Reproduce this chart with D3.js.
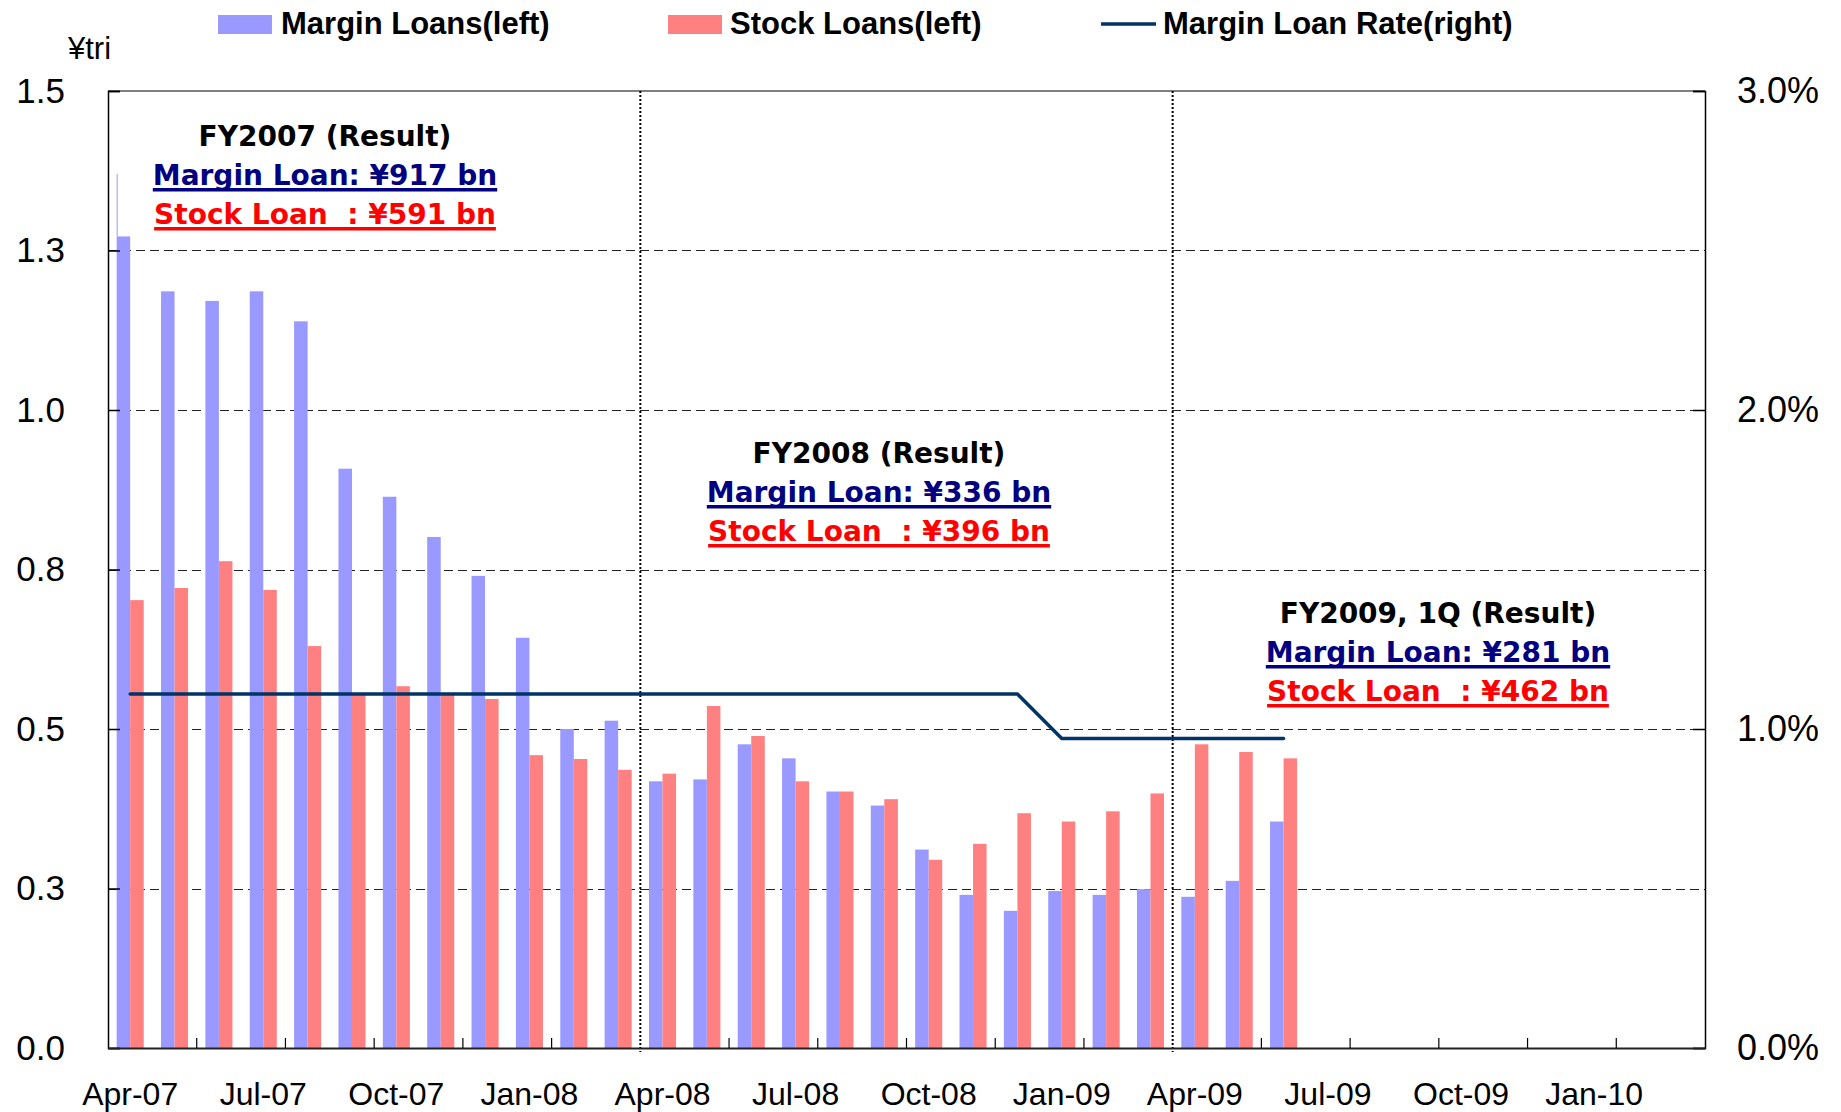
<!DOCTYPE html>
<html>
<head>
<meta charset="utf-8">
<script src="https://cdn.jsdelivr.net/npm/d3@7"></script>
<style>
  body { margin: 0; background: #fff; }
  svg { display: block; }
  .axis text, .lbl { font-family: 'Liberation Sans', Arial, sans-serif; fill: #000; }
  .legend text { font-family: 'Liberation Sans', Arial, sans-serif; font-weight: bold; fill: #000; }
  .note { font-family: 'DejaVu Sans', sans-serif; font-weight: bold; white-space: pre; }
</style>
</head>
<body>
<div id="chart"></div>
<script>
// monthly categories on the x axis (Apr-07 .. Mar-10)
const months = [
  'Apr-07','May-07','Jun-07','Jul-07','Aug-07','Sep-07','Oct-07','Nov-07','Dec-07',
  'Jan-08','Feb-08','Mar-08','Apr-08','May-08','Jun-08','Jul-08','Aug-08','Sep-08',
  'Oct-08','Nov-08','Dec-08','Jan-09','Feb-09','Mar-09','Apr-09','May-09','Jun-09',
  'Jul-09','Aug-09','Sep-09','Oct-09','Nov-09','Dec-09','Jan-10','Feb-10','Mar-10'
];
const xTickLabels = ['Apr-07','Jul-07','Oct-07','Jan-08','Apr-08','Jul-08','Oct-08','Jan-09','Apr-09','Jul-09','Oct-09','Jan-10'];

// ¥ trillion, Apr-07 .. Jun-09
const marginLoans = [1.272, 1.186, 1.171, 1.186, 1.139, 0.908, 0.864, 0.801, 0.740, 0.643, 0.500, 0.513,
                     0.418, 0.421, 0.476, 0.454, 0.402, 0.380, 0.311, 0.240, 0.215, 0.246, 0.240, 0.249,
                     0.237, 0.262, 0.355];
const stockLoans  = [0.702, 0.721, 0.763, 0.718, 0.630, 0.554, 0.567, 0.554, 0.547, 0.459, 0.453, 0.436,
                     0.430, 0.536, 0.489, 0.418, 0.402, 0.390, 0.295, 0.320, 0.368, 0.355, 0.371, 0.399,
                     0.476, 0.464, 0.454];
// %, right axis
const marginRate  = [1.11, 1.11, 1.11, 1.11, 1.11, 1.11, 1.11, 1.11, 1.11, 1.11, 1.11, 1.11,
                     1.11, 1.11, 1.11, 1.11, 1.11, 1.11, 1.11, 1.11, 1.11, 0.97, 0.97, 0.97,
                     0.97, 0.97, 0.97];
const marginPeakApr07 = 1.37;   // thin sliver drawn above the first bar

const leftTicks = [0, 0.25, 0.5, 0.75, 1.0, 1.25, 1.5];
const leftTickLabels = ['0.0', '0.3', '0.5', '0.8', '1.0', '1.3', '1.5'];
const rightTicks = [0, 1, 2, 3];
const rightTickLabels = ['0.0%', '1.0%', '2.0%', '3.0%'];
const fyBreaks = ['Apr-08', 'Apr-09'];

const notes = [
  { title: 'FY2007 (Result)',     margin: 'Margin Loan: ¥917 bn', stock: 'Stock Loan  : ¥591 bn' },
  { title: 'FY2008 (Result)',     margin: 'Margin Loan: ¥336 bn', stock: 'Stock Loan  : ¥396 bn' },
  { title: 'FY2009, 1Q (Result)', margin: 'Margin Loan: ¥281 bn', stock: 'Stock Loan  : ¥462 bn' }
];
const noteAnchors = [{ cx: 325, y: 146 }, { cx: 879, y: 463 }, { cx: 1438, y: 623 }];

const width = 1841, height = 1112;
const margin = { top: 91, right: 136, bottom: 64, left: 108 };
const innerW = width - margin.left - margin.right;
const innerH = height - margin.top - margin.bottom;

const blue = '#9999FF', red = '#FF8080', navy = '#003366';

const svg = d3.select('#chart').append('svg')
  .attr('width', width)
  .attr('height', height);

const g = svg.append('g')
  .attr('transform', `translate(${margin.left},${margin.top})`);

const x = d3.scaleBand().domain(months).range([0, innerW]).padding(0);
const inner = d3.scaleBand().domain(['margin', 'stock']).range([0, x.bandwidth()])
  .paddingInner(0).paddingOuter(0.64);
const y = d3.scaleLinear().domain([0, 1.5]).range([innerH, 0]);
const yR = d3.scaleLinear().domain([0, 3]).range([innerH, 0]);

// gridlines
g.append('g')
  .selectAll('line')
  .data(leftTicks.filter(d => d > 0 && d < 1.5))
  .join('line')
  .attr('x1', 0)
  .attr('x2', innerW)
  .attr('y1', d => Math.round(y(d)) + 0.5)
  .attr('y2', d => Math.round(y(d)) + 0.5)
  .attr('stroke', '#222')
  .attr('stroke-width', 1)
  .attr('stroke-dasharray', '9,5');

// top border
g.append('line')
  .attr('x1', 0).attr('x2', innerW)
  .attr('y1', 0).attr('y2', 0)
  .attr('stroke', '#808080')
  .attr('stroke-width', 2);

// bars
const barData = marginLoans.map((v, i) => ({ month: months[i], margin: v, stock: stockLoans[i] }));

g.append('g')
  .selectAll('g')
  .data(barData)
  .join('g')
  .attr('transform', d => `translate(${x(d.month)},0)`)
  .selectAll('rect')
  .data(d => [{ key: 'margin', value: d.margin }, { key: 'stock', value: d.stock }])
  .join('rect')
  .attr('x', d => inner(d.key))
  .attr('y', d => y(d.value))
  .attr('width', inner.bandwidth())
  .attr('height', d => innerH - y(d.value))
  .attr('fill', d => d.key === 'margin' ? blue : red);

g.append('rect')
  .attr('x', x(months[0]) + inner('margin'))
  .attr('y', y(marginPeakApr07))
  .attr('width', 1)
  .attr('height', y(marginLoans[0]) - y(marginPeakApr07))
  .attr('fill', blue);

// fiscal-year dividers
g.append('g')
  .selectAll('line')
  .data(fyBreaks)
  .join('line')
  .attr('x1', d => x(d))
  .attr('x2', d => x(d))
  .attr('y1', 0)
  .attr('y2', innerH + 4)
  .attr('stroke', '#000')
  .attr('stroke-width', 2)
  .attr('stroke-dasharray', '2,2');

// margin loan rate line
const line = d3.line()
  .x((d, i) => x(months[i]) + x.bandwidth() / 2)
  .y(d => yR(d));

g.append('path')
  .datum(marginRate)
  .attr('d', line)
  .attr('fill', 'none')
  .attr('stroke', navy)
  .attr('stroke-width', 3.5)
  .attr('stroke-linecap', 'round')
  .attr('stroke-linejoin', 'round');

// axes
const leftAxis = g.append('g')
  .attr('class', 'axis')
  .call(d3.axisLeft(y).tickValues(leftTicks).tickFormat((d, i) => leftTickLabels[i])
    .tickSize(-12).tickPadding(43));
leftAxis.selectAll('text').style('font-size', '35px');

const rightAxis = g.append('g')
  .attr('class', 'axis')
  .attr('transform', `translate(${innerW},0)`)
  .call(d3.axisRight(yR).tickValues(rightTicks).tickFormat((d, i) => rightTickLabels[i])
    .tickSize(-12).tickPadding(32));
rightAxis.selectAll('text').style('font-size', '36px');

const bottomAxis = g.append('g')
  .attr('class', 'axis')
  .attr('transform', `translate(0,${innerH})`)
  .call(d3.axisBottom(x).tickValues(xTickLabels).tickSize(0).tickPadding(34));
bottomAxis.selectAll('text').style('font-size', '32px');
bottomAxis.select('.domain').attr('stroke', '#222').attr('stroke-width', 2);

[leftAxis, rightAxis].forEach(a => {
  a.select('.domain').attr('stroke', '#000').attr('stroke-width', 1.5);
  a.selectAll('.tick line').attr('stroke', '#000').attr('stroke-width', 1.5);
});

// month boundary ticks every two months
g.append('g')
  .selectAll('line')
  .data(months.filter((m, i) => i > 0 && i % 2 === 0 && i % 12 !== 0))
  .join('line')
  .attr('x1', d => x(d))
  .attr('x2', d => x(d))
  .attr('y1', innerH)
  .attr('y2', innerH - 10)
  .attr('stroke', '#000')
  .attr('stroke-width', 1.2);

// unit label
svg.append('text')
  .attr('class', 'lbl')
  .attr('x', 68)
  .attr('y', 59)
  .style('font-size', '31px')
  .text('¥tri');

// legend
const legend = svg.append('g').attr('class', 'legend');
legend.append('rect').attr('x', 218).attr('y', 15).attr('width', 54).attr('height', 19).attr('fill', blue);
legend.append('text').attr('x', 281).attr('y', 34).style('font-size', '31px').text('Margin Loans(left)');
legend.append('rect').attr('x', 668).attr('y', 15).attr('width', 54).attr('height', 19).attr('fill', red);
legend.append('text').attr('x', 730).attr('y', 34).style('font-size', '31px').text('Stock Loans(left)');
legend.append('line').attr('x1', 1101).attr('x2', 1156).attr('y1', 24).attr('y2', 24)
  .attr('stroke', navy).attr('stroke-width', 3.5);
legend.append('text').attr('x', 1163).attr('y', 34).style('font-size', '31px').text('Margin Loan Rate(right)');

// fiscal year annotations
notes.forEach((n, i) => {
  const a = noteAnchors[i];
  const box = svg.append('g');
  const rows = [
    { text: n.title, color: '#000', underline: false },
    { text: n.margin, color: '#000080', underline: true },
    { text: n.stock, color: '#FF0000', underline: true }
  ];
  rows.forEach((r, j) => {
    const by = a.y + j * 39;
    const t = box.append('text')
      .attr('class', 'note')
      .attr('x', a.cx)
      .attr('y', by)
      .attr('text-anchor', 'middle')
      .attr('fill', r.color)
      .style('font-size', '28px')
      .text(r.text);
    if (r.underline) {
      const b = t.node().getBBox();
      box.append('rect')
        .attr('x', b.x)
        .attr('y', by + 3)
        .attr('width', b.width)
        .attr('height', 3.5)
        .attr('fill', r.color);
    }
  });
});
</script>
</body>
</html>
